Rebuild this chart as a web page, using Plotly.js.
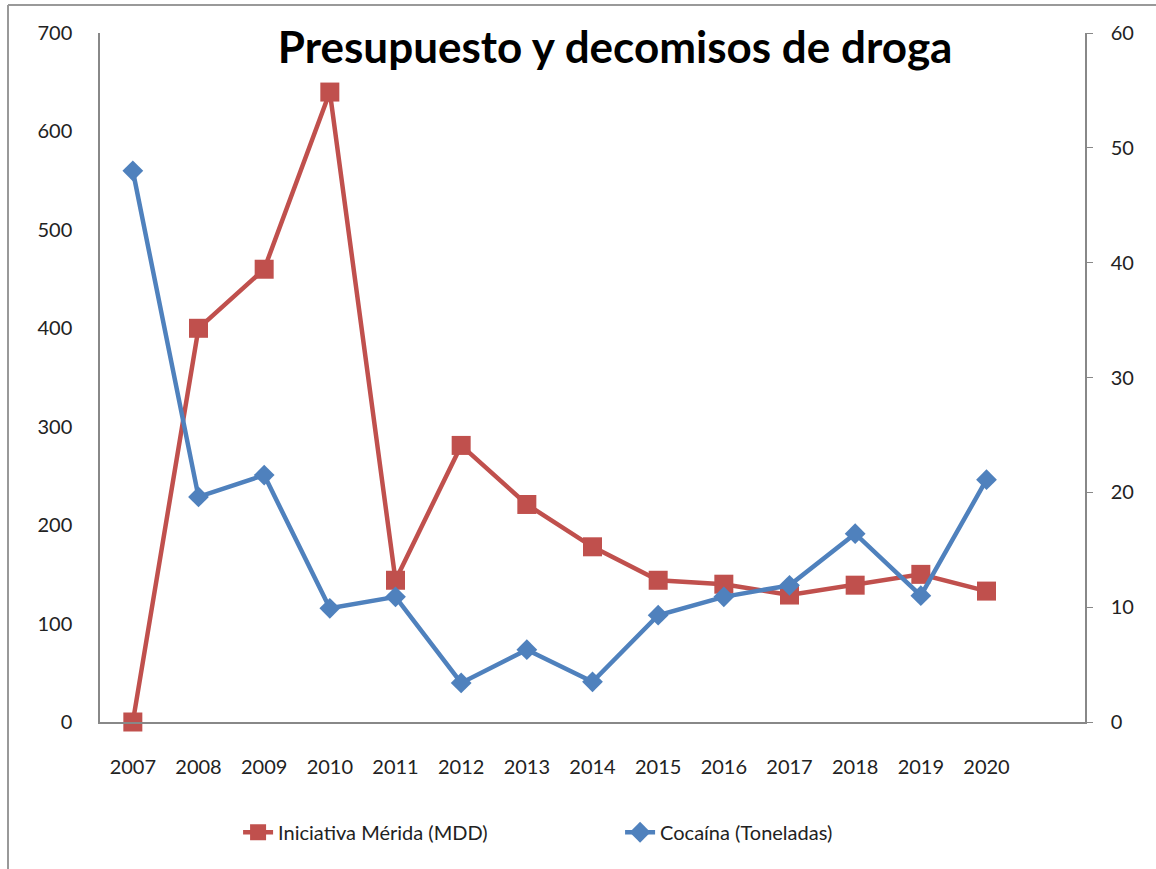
<!DOCTYPE html>
<html>
<head>
<meta charset="utf-8">
<script src="https://cdn.plot.ly/plotly-3.0.1.min.js"></script>
<style>html,body{margin:0;padding:0;background:#fff;}#chart{width:1156px;height:869px;}</style>
</head>
<body>
<div id="chart"></div>
<script>
const years = ["2007","2008","2009","2010","2011","2012","2013","2014","2015","2016","2017","2018","2019","2020"];
const meridaMDD = [0, 400, 460, 640, 144, 281, 221, 178, 144, 140, 129, 139, 150, 133];
const cocainaTon = [48, 19.6, 21.5, 9.9, 10.9, 3.4, 6.3, 3.5, 9.3, 10.9, 11.9, 16.4, 11, 21.1];
const leftTicks = [0, 100, 200, 300, 400, 500, 600, 700];
const rightTicks = [0, 10, 20, 30, 40, 50, 60];

const FONT = "Lato, 'Open Sans', sans-serif";
const traces = [
  {
    x: years, y: meridaMDD, name: "Iniciativa Mérida (MDD)", type: "scatter", mode: "lines+markers",
    line: {color: "#C0504D", width: 4.5}, marker: {symbol: "square", size: 19, color: "#C0504D"},
    yaxis: "y", cliponaxis: false
  },
  {
    x: years, y: cocainaTon, name: "Cocaína (Toneladas)", type: "scatter", mode: "lines+markers",
    line: {color: "#4F81BD", width: 4.5}, marker: {symbol: "diamond", size: 16, color: "#4F81BD"},
    yaxis: "y2", cliponaxis: false
  }
];

const layout = {
  width: 1156, height: 869,
  margin: {l: 100, r: 71, t: 33, b: 147},
  paper_bgcolor: "#fff", plot_bgcolor: "#fff",
  font: {family: FONT, size: 20, color: "#222"},
  showlegend: true,
  title: {
    text: "<b>Presupuesto y decomisos de droga</b>",
    font: {family: FONT, size: 44, color: "#000"},
    x: 0.523, xanchor: "center", xref: "paper",
    y: 0.945, yanchor: "middle", yref: "container"
  },
  xaxis: {
    type: "category", range: [-0.5, 14.5], showgrid: false, zeroline: false,
    showline: true, linecolor: "#888", linewidth: 1.5, ticks: "",
    tickfont: {family: FONT, size: 20, color: "#222"}, ticklabelstandoff: 26
  },
  yaxis: {
    range: [0, 700], tickvals: leftTicks, showgrid: false, zeroline: false,
    showline: true, linecolor: "#888", linewidth: 1.5, ticks: "",
    tickfont: {family: FONT, size: 20, color: "#222"}, ticklabelstandoff: 22
  },
  yaxis2: {
    range: [0, 60], tickvals: rightTicks, overlaying: "y", side: "right", showgrid: false, zeroline: false,
    showline: true, linecolor: "#888", linewidth: 1.5, ticks: "outside", ticklen: 6, tickcolor: "#888",
    tickfont: {family: FONT, size: 20, color: "#222"}, ticklabelstandoff: 14
  },
  legend: {
    orientation: "h", x: 0.528, xanchor: "center", y: -0.16, yanchor: "middle",
    font: {family: FONT, size: 20, color: "#222"}, entrywidth: 337, entrywidthmode: "pixels"
  },
  shapes: [
    {type: "line", xref: "paper", yref: "paper", x0: -0.0934, x1: 1.08, y0: 1.0406, y1: 1.0406, line: {color: "#999", width: 2}},
    {type: "line", xref: "paper", yref: "paper", x0: -0.0934, x1: -0.0934, y0: -0.22, y1: 1.0406, line: {color: "#999", width: 2}}
  ]
};

Plotly.newPlot("chart", traces, layout, {displayModeBar: false});
</script>
</body>
</html>
